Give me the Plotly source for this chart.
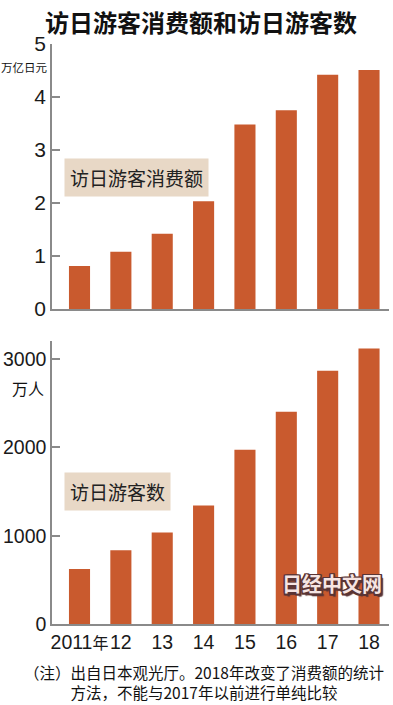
import plotly.graph_objects as go

years = ["2011<span style='font-size:16px'>年</span>", "12", "13", "14", "15", "16", "17", "18"]
spending = [0.81, 1.08, 1.42, 2.03, 3.48, 3.75, 4.42, 4.51]   # 万亿日元
visitors = [622, 836, 1036, 1341, 1974, 2404, 2869, 3119]      # 万人
top_ticks = [0, 1, 2, 3, 4, 5]
bottom_ticks = [0, 1000, 2000, 3000]

BAR = "#c95a2e"
AX = "#8a8a8a"
NUM_FONT = "Liberation Sans, Arial"
CJK = "Noto Sans CJK SC"

xs = list(range(len(years)))

fig = go.Figure()
fig.add_trace(go.Bar(x=xs, y=spending, marker_color=BAR, width=0.51,
                     marker_line_width=0, showlegend=False, xaxis="x", yaxis="y"))
fig.add_trace(go.Bar(x=xs, y=visitors, marker_color=BAR, width=0.51,
                     marker_line_width=0, showlegend=False, xaxis="x2", yaxis="y2"))

xr = [-0.665, 7.483]
fig.update_layout(
    width=393, height=705,
    margin=dict(l=52, r=4, t=44, b=81, autoexpand=False),
    paper_bgcolor="white", plot_bgcolor="white",
    xaxis=dict(domain=[0, 1], range=xr, showline=True, linecolor=AX, linewidth=1.5,
               showticklabels=False, ticks="", showgrid=False, zeroline=False,
               anchor="y", automargin=False),
    yaxis=dict(domain=[0.5433, 1], range=[0, 5], tickvals=top_ticks,
               showline=True, linecolor=AX, linewidth=1.5, ticks="inside",
               ticklen=8, tickcolor=AX, tickwidth=1.5, showgrid=False, zeroline=False,
               automargin=False, anchor="x",
               tickfont=dict(family=NUM_FONT, size=21, color="#1a1a1a")),
    xaxis2=dict(domain=[0, 1], range=xr, showline=True, linecolor=AX, linewidth=1.5,
                tickvals=xs, ticktext=years, ticks="", showgrid=False, zeroline=False,
                tickangle=0, automargin=False,
                tickfont=dict(family=NUM_FONT + ", " + CJK, size=19.5, color="#1a1a1a"),
                anchor="y2"),
    yaxis2=dict(domain=[0, 0.4872], range=[0, 3200], tickvals=bottom_ticks,
                showline=True, linecolor=AX, linewidth=1.5, ticks="inside",
                ticklen=8, tickcolor=AX, tickwidth=1.5, showgrid=False, zeroline=False,
                automargin=False, anchor="x2",
                tickfont=dict(family=NUM_FONT, size=19.5, color="#1a1a1a")),
)

def A(**kw):
    base = dict(xref="paper", yref="paper", showarrow=False,
                xanchor="center", yanchor="middle")
    base.update(kw)
    return base

OUT = "#5a3434"
ann = [
    A(text="<b>访日游客消费额和访日游客数</b>", x=0.4436, y=1.0396,
      font=dict(family=CJK, size=24, color="#111")),
    A(text="万亿日元", x=-0.0816, y=0.9612,
      font=dict(family=CJK, size=11.5, color="#111")),
    A(text="万人", x=-0.0727, y=0.4063,
      font=dict(family=CJK, size=16, color="#111")),
    A(text="访日游客消费额", x=0.0356, y=0.8035, xanchor="left", yanchor="top",
      bgcolor="#e8d8c6", borderpad=5, font=dict(family=CJK, size=19, color="#222")),
    A(text="访日游客数", x=0.0356, y=0.2625, xanchor="left", yanchor="top",
      bgcolor="#e8d8c6", borderpad=5, font=dict(family=CJK, size=19, color="#222")),
    A(text="<b>日经中文网</b>", x=0.832, y=0.0694,
      font=dict(family=CJK, size=20, color="#f6e4e2",
                shadow=(f"1.5px 1.5px 0 {OUT}, -1.5px -1.5px 0 {OUT}, 1.5px -1.5px 0 {OUT}, "
                        f"-1.5px 1.5px 0 {OUT}, 0 1.5px 0 {OUT}, 0 -1.5px 0 {OUT}, "
                        f"1.5px 0 0 {OUT}, -1.5px 0 0 {OUT}, 2.5px 2.5px 1px {OUT}"))),
    A(text="（注）出自日本观光厅。2018年改变了消费额的统计<br>方法，不能与2017年以前进行单纯比较",
      x=0.451, y=-0.1, align="center", font=dict(family=CJK, size=15.5, color="#111")),
]
fig.update_layout(annotations=ann)

fig.write_html("out.html")
